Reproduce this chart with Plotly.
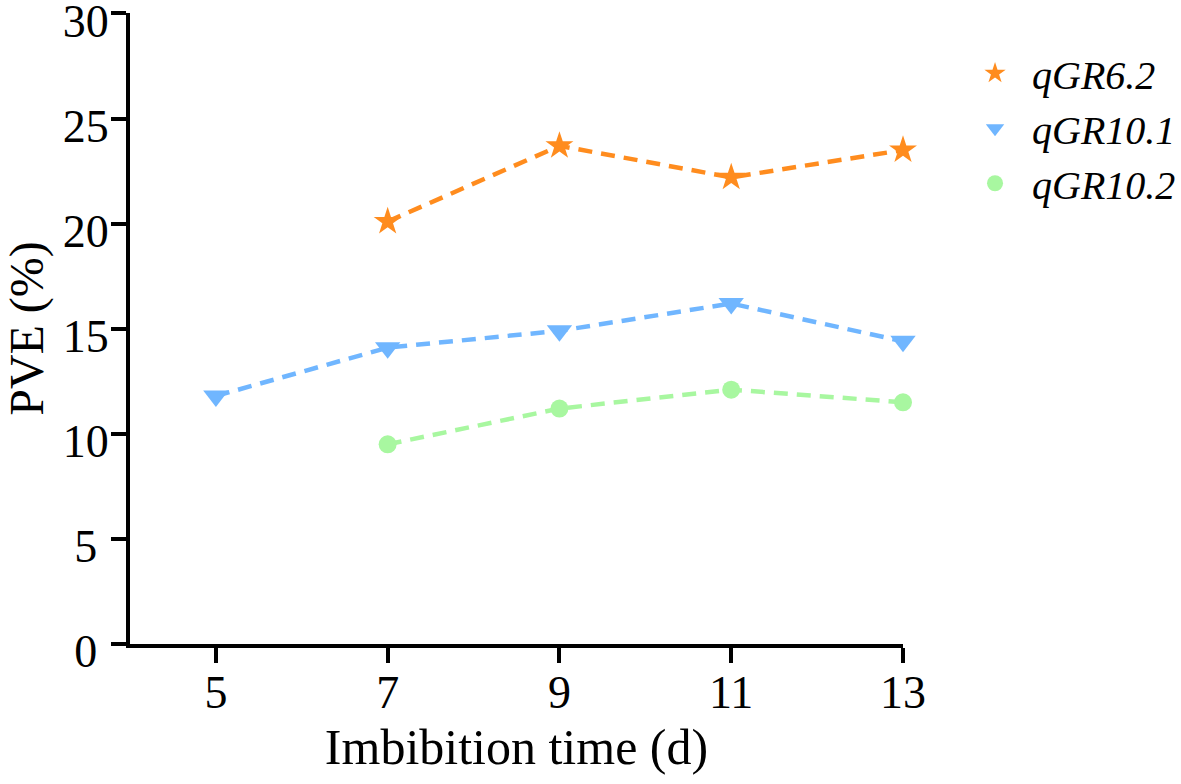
import plotly.graph_objects as go

# imbibition days and PVE values (%)
days_62 = [7, 9, 11, 13]
pve_62 = [20.1, 23.7, 22.2, 23.5]

days_101 = [5, 7, 9, 11, 13]
pve_101 = [11.8, 14.1, 14.9, 16.2, 14.4]

days_102 = [7, 9, 11, 13]
pve_102 = [9.5, 11.2, 12.1, 11.5]

x_ticks = [5, 7, 9, 11, 13]
y_ticks = [0, 5, 10, 15, 20, 25, 30]
# single digits padded so the labels look centred like the original
y_tick_text = ["0\u2008", "5\u2008", "10", "15", "20", "25", "30"]

font = "Liberation Serif, Times New Roman, serif"

series = [
    ("qGR6.2", days_62, pve_62, "#FF8C1E", "star", 21),
    ("qGR10.1", days_101, pve_101, "#70B6FF", "triangle-down", 22),
    ("qGR10.2", days_102, pve_102, "#A8F7A0", "circle", 18),
]

fig = go.Figure()

# dashed lines (not in legend), then markers (legend shows markers only)
for name, xs, ys, color, sym, size in series:
    fig.add_trace(go.Scatter(x=xs, y=ys, mode="lines", showlegend=False,
                             line=dict(color=color, width=4.5, dash="14px,9px"),
                             cliponaxis=False, hoverinfo="skip"))
for name, xs, ys, color, sym, size in series:
    fig.add_trace(go.Scatter(x=xs, y=ys, name=name, mode="markers",
                             marker=dict(symbol=sym, size=size, color=color),
                             cliponaxis=False))

fig.update_layout(
    width=1181, height=784,
    margin=dict(l=130, r=278, t=13, b=140, autoexpand=False),
    plot_bgcolor="white", paper_bgcolor="white",
    font=dict(family=font, color="black"),
    showlegend=True,
    legend=dict(xref="container", x=0.8112, y=0.956, xanchor="left", yanchor="top",
                font=dict(size=40, family=font, style="italic"),
                bgcolor="rgba(0,0,0,0)", itemwidth=64, tracegroupgap=0),
    xaxis=dict(range=[4, 13], tickvals=x_ticks, showgrid=False, zeroline=False,
               showline=True, linecolor="black", linewidth=4,
               ticks="outside", ticklen=15, tickwidth=4, tickcolor="black",
               tickfont=dict(size=46), ticklabelstandoff=-10, automargin=False,
               title=dict(text="Imbibition time (d)", font=dict(size=50), standoff=13)),
    yaxis=dict(range=[0, 30.02], tickvals=y_ticks, ticktext=y_tick_text,
               showgrid=False, zeroline=False,
               showline=True, linecolor="black", linewidth=4,
               ticks="outside", ticklen=15, tickwidth=4, tickcolor="black",
               tickfont=dict(size=46), ticklabelstandoff=-7, ticklabelshift=7,
               ticklabeloverflow="allow", automargin=False,
               title=dict(text="PVE (%)", font=dict(size=48), standoff=10)),
)

# drop the default 8px page margin so the figure sits at the window corner
fig.write_html("out.html", config={"displayModeBar": False},
               post_script="document.body.style.margin='0';")
